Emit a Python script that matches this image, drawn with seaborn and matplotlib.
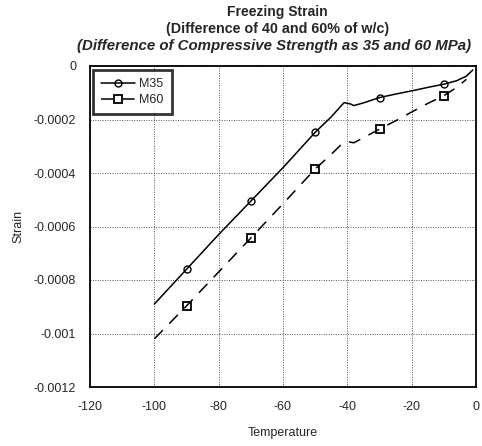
import matplotlib
matplotlib.use("Agg")
import matplotlib.pyplot as plt
import seaborn as sns
import pandas as pd

# M35 curve
m35_temp = [-100, -90, -80, -70, -60, -50, -45, -42, -41, -39, -38, -35, -30, -25, -20, -15, -10, -6, -3, -1]
m35_strain = [-0.00089, -0.00076, -0.00063, -0.000505, -0.00038, -0.000248, -0.00019, -0.00015,
              -0.000137, -0.000142, -0.000148, -0.000138, -0.000118, -0.000105, -0.000093,
              -0.00008, -0.000068, -0.000055, -0.000038, -0.000015]
# M60 curve
m60_temp = [-100, -90, -80, -70, -60, -50, -45, -42, -40, -38, -35, -30, -25, -20, -15, -10, -6, -3]
m60_strain = [-0.00102, -0.000897, -0.00077, -0.000643, -0.000515, -0.000385, -0.00033, -0.000295,
              -0.000283, -0.000287, -0.000268, -0.000236, -0.000205, -0.000172, -0.00014,
              -0.000111, -0.00008, -0.00005]
marker_temps = [-90, -70, -50, -30, -10]

x_ticks = [-120, -100, -80, -60, -40, -20, 0]
y_ticks = [0, -0.0002, -0.0004, -0.0006, -0.0008, -0.001, -0.0012]
y_labels = ["0", "-0.0002", "-0.0004", "-0.0006", "-0.0008", "-0.001", "-0.0012"]

sns.set_style("white")
plt.rcParams['font.family'] = ['Liberation Sans', 'DejaVu Sans']

fig = plt.figure(figsize=(4.82, 4.46), dpi=100)
ax = fig.add_axes([90/482, 1-387/446, 386/482, 321/446])

df35 = pd.DataFrame({"Temperature": m35_temp, "Strain": m35_strain})
df60 = pd.DataFrame({"Temperature": m60_temp, "Strain": m60_strain})
mk35 = [m35_temp.index(t) for t in marker_temps]
mk60 = [m60_temp.index(t) for t in marker_temps]

sns.lineplot(data=df35, x="Temperature", y="Strain", ax=ax, color="black", lw=1.1,
             marker="o", markevery=mk35, markersize=5, markerfacecolor="none",
             markeredgecolor="black", markeredgewidth=1.0, label="M35", sort=False)
sns.lineplot(data=df60, x="Temperature", y="Strain", ax=ax, color="black", lw=1.1,
             marker="s", markevery=mk60, markersize=5.5, markerfacecolor="none",
             markeredgecolor="black", markeredgewidth=1.3, label="M60", sort=False,
             dashes=False, linestyle=(0, (8, 6)))

ax.set_xlim(-120, 0)
ax.set_ylim(-0.0012, 0)
ax.set_xticks(x_ticks)
ax.set_xticklabels([str(t) for t in x_ticks], fontsize=9)
ax.set_yticks(y_ticks)
ax.set_yticklabels(y_labels, fontsize=9)
ax.tick_params(axis="y", direction="in", length=4, width=1, color="black", pad=10)
ax.tick_params(axis="x", direction="in", length=4, width=1, color="black", pad=10)
ax.grid(True, linestyle=(0, (1, 1.5)), color="#555555", linewidth=0.7)
for s in ax.spines.values():
    s.set_color("black")
    s.set_linewidth(1.3)

ax.set_xlabel("Temperature", fontsize=9, labelpad=10)
ax.set_ylabel("Strain", fontsize=9, labelpad=7)

leg = ax.legend(loc="upper left", bbox_to_anchor=(0.008, 0.988), borderaxespad=0,
                fontsize=9, frameon=True, fancybox=False, handlelength=2.7,
                borderpad=0.65, labelspacing=0.35, handletextpad=0.35)
leg.get_frame().set_edgecolor("black")
leg.get_frame().set_linewidth(2.0)

fig.text(0.575, 1-12/446, "Freezing Strain", ha="center", va="center", fontsize=10, fontweight="bold")
fig.text(0.575, 1-29/446, "(Difference of 40 and 60% of w/c)", ha="center", va="center",
         fontsize=10.3, fontweight="bold")
fig.text(0.568, 1-46/446, "(Difference of Compressive Strength as 35 and 60 MPa)", ha="center",
         va="center", fontsize=10.8, fontweight="bold", style="italic")

fig.savefig("out.png", dpi=100)
